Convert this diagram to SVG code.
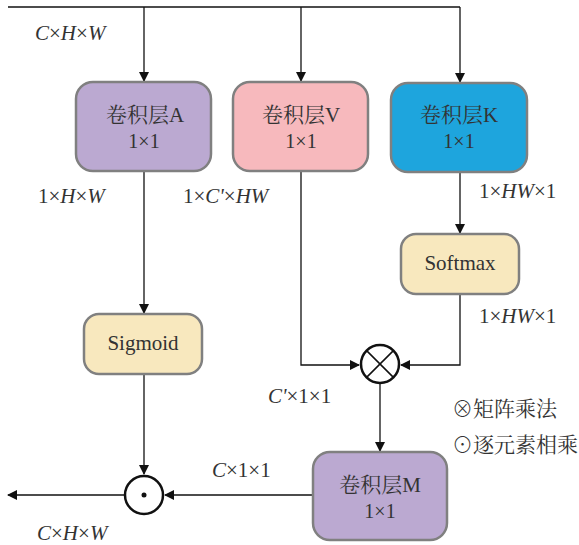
<svg xmlns="http://www.w3.org/2000/svg" width="579" height="545" viewBox="0 0 579 545">
<style>
.box{stroke:#808080;stroke-width:2.5}
.t{font-size:21px;fill:#333;text-anchor:middle}
.s{font-size:20px}
.lbl{font-size:21px;fill:#333}
.i{font-style:italic}
.ln{fill:none;stroke:#111;stroke-width:1.3}
.op{fill:#fff;stroke:#111;stroke-width:2.5}
</style>
<defs>
<marker id="ah" markerWidth="10" markerHeight="10" refX="9" refY="5" orient="auto" markerUnits="userSpaceOnUse">
<path d="M0,0 L10,5 L0,10 Z" fill="#111"/>
</marker>
</defs>
<g id="connectors">
<path class="ln" d="M8,7 H460"/>
<path class="ln" d="M144,7 V81" marker-end="url(#ah)"/>
<path class="ln" d="M301,7 V81" marker-end="url(#ah)"/>
<path class="ln" d="M460,7 V82" marker-end="url(#ah)"/>
<path class="ln" d="M144,171 V313" marker-end="url(#ah)"/>
<path class="ln" d="M460,172 V233" marker-end="url(#ah)"/>
<path class="ln" d="M301,171 V365 H359" marker-end="url(#ah)"/>
<path class="ln" d="M460,294 V365 H401" marker-end="url(#ah)"/>
<path class="ln" d="M380,384 V451" marker-end="url(#ah)"/>
<path class="ln" d="M144,373 V474" marker-end="url(#ah)"/>
<path class="ln" d="M313,495 H165" marker-end="url(#ah)"/>
<path class="ln" d="M124,495 H8" marker-end="url(#ah)"/>
</g>
<g font-family="'Liberation Serif', 'Noto Serif CJK SC', 'Noto Sans CJK SC', serif">
<g id="convA">
<rect class="box" x="76" y="82" width="135" height="89" rx="17" fill="#bba9d1"/>
<text class="t" x="145" y="122">卷积层A</text>
<text class="t s" x="144" y="148">1×1</text>
</g>
<g id="convV">
<rect class="box" x="233" y="82" width="135" height="89" rx="17" fill="#f7b9bd"/>
<text class="t" x="301" y="122">卷积层V</text>
<text class="t s" x="301" y="148">1×1</text>
</g>
<g id="convK">
<rect class="box" x="391" y="83" width="136" height="89" rx="17" fill="#1ea5dd"/>
<text class="t" x="459" y="122">卷积层K</text>
<text class="t s" x="459" y="148">1×1</text>
</g>
<g id="softmax">
<rect class="box" x="401" y="234" width="118" height="60" rx="15" fill="#f8e8be"/>
<text class="t" x="460" y="270">Softmax</text>
</g>
<g id="sigmoid">
<rect class="box" x="84" y="314" width="118" height="60" rx="15" fill="#f8e8be"/>
<text class="t" x="143" y="350">Sigmoid</text>
</g>
<g id="matmul">
<circle class="op" cx="380" cy="364" r="19"/>
<path d="M366.6,350.6 L393.4,377.4 M393.4,350.6 L366.6,377.4" stroke="#111" stroke-width="1.5"/>
</g>
<g id="convM">
<rect class="box" x="313" y="452" width="134" height="88" rx="17" fill="#bba9d1"/>
<text class="t" x="380" y="492">卷积层M</text>
<text class="t s" x="380" y="518">1×1</text>
</g>
<g id="elemmul">
<circle class="op" cx="144" cy="495" r="19"/>
<circle cx="144" cy="495" r="2.5" fill="#111"/>
</g>
<g id="labels">
<text class="lbl" x="35" y="40"><tspan class="i">C</tspan>×<tspan class="i">H</tspan>×<tspan class="i">W</tspan></text>
<text class="lbl" x="38" y="203">1×<tspan class="i">H</tspan>×<tspan class="i">W</tspan></text>
<text class="lbl" x="183" y="203">1×<tspan class="i">C'</tspan>×<tspan class="i">HW</tspan></text>
<text class="lbl" x="479" y="198">1×<tspan class="i">HW</tspan>×1</text>
<text class="lbl" x="479" y="323">1×<tspan class="i">HW</tspan>×1</text>
<text class="lbl" x="268" y="403"><tspan class="i">C'</tspan>×1×1</text>
<text class="lbl" x="212" y="477"><tspan class="i">C</tspan>×1×1</text>
<text class="lbl" x="37" y="540"><tspan class="i">C</tspan>×<tspan class="i">H</tspan>×<tspan class="i">W</tspan></text>
</g>
<g id="legend">
<text class="t" x="452" y="416" style="text-anchor:start">⊗矩阵乘法</text>
<text class="t" x="452" y="452" style="text-anchor:start">⊙逐元素相乘</text>
</g>
</g>
</svg>
